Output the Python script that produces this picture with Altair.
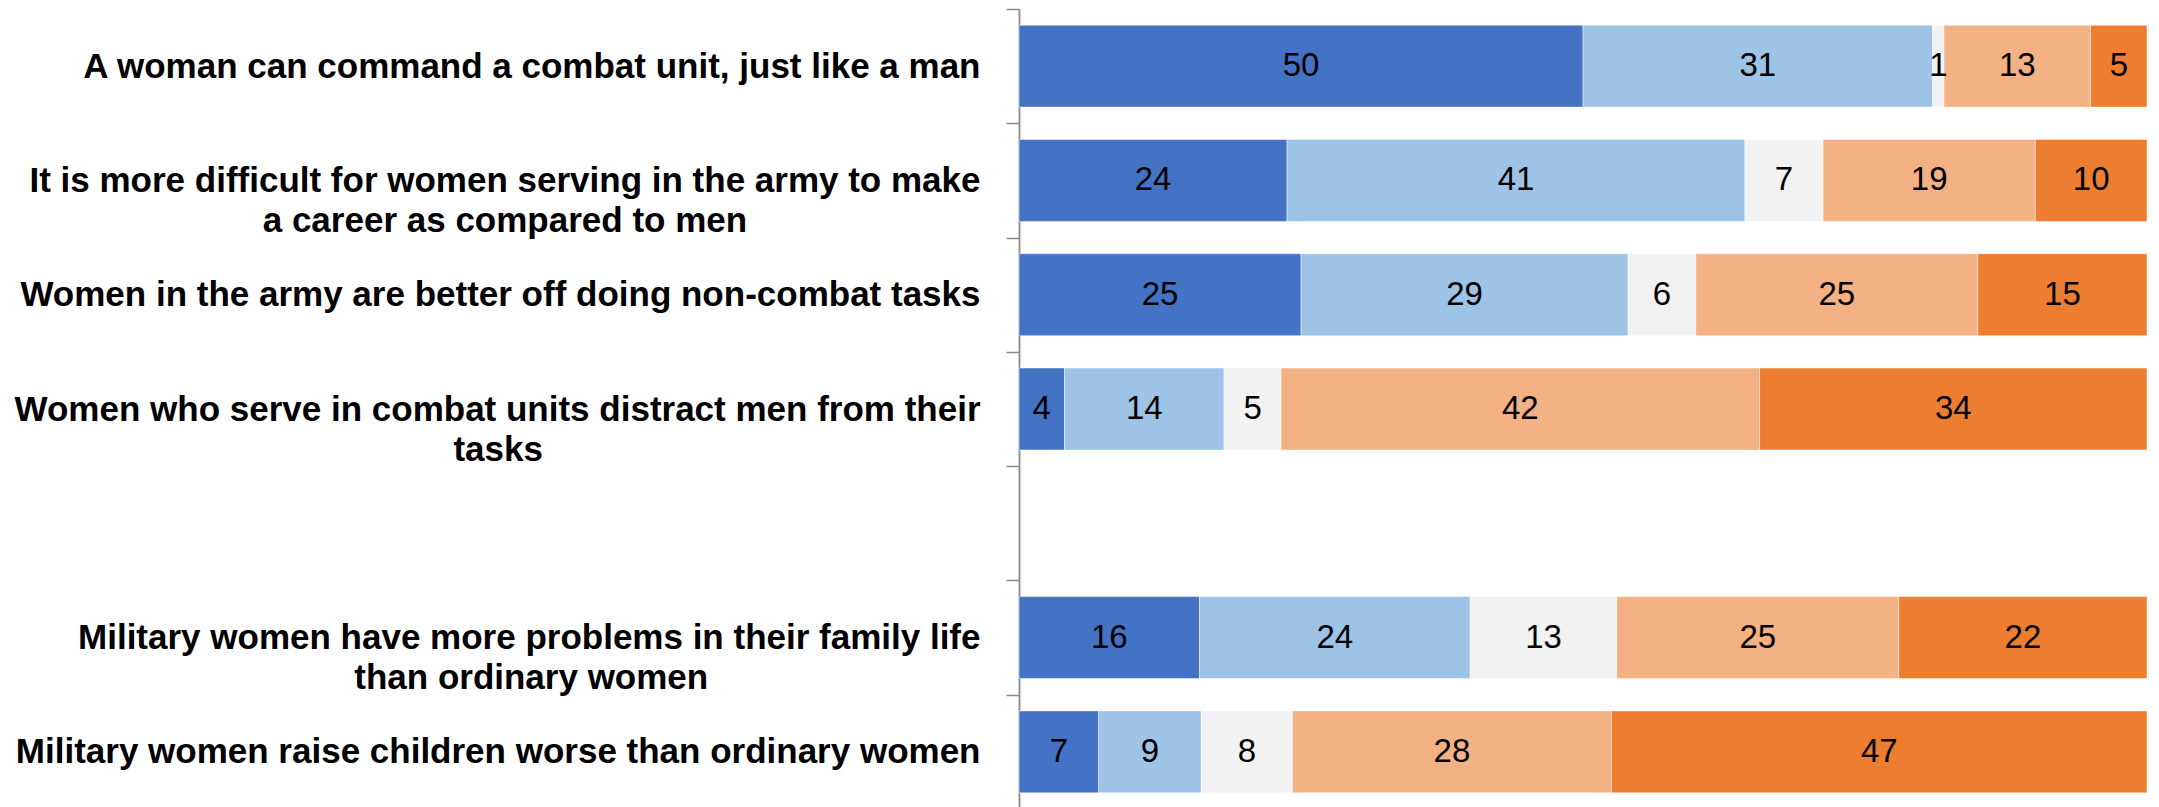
import altair as alt
import pandas as pd

# Statements (one blank separator row between the 4th and 5th)
statements = [
    "A woman can command a combat unit, just like a man",
    "It is more difficult for women serving in the army to make|a career as compared to men",
    "Women in the army are better off doing non-combat tasks",
    "Women who serve in combat units distract men from their|tasks",
    "Military women have more problems in their family life|than ordinary women",
    "Military women raise children worse than ordinary women",
]
row_order = statements[:4] + [" "] + statements[4:]

answers = ["Definitely agree", "Rather agree", "Hard to say", "Rather disagree", "Definitely disagree"]
definitely_agree = [50, 24, 25, 4, 16, 7]
rather_agree = [31, 41, 29, 14, 24, 9]
hard_to_say = [1, 7, 6, 5, 13, 8]
rather_disagree = [13, 19, 25, 42, 25, 28]
definitely_disagree = [5, 10, 15, 34, 22, 47]
series = [definitely_agree, rather_agree, hard_to_say, rather_disagree, definitely_disagree]
colors = ["#4472C4", "#9DC3E6", "#F2F2F2", "#F4B183", "#ED7D31"]

# Long table with 100%-stacked positions (shares of each row total)
rows = []
for i, s in enumerate(statements):
    total = sum(vals[i] for vals in series)
    cum = 0
    for j, (a, vals) in enumerate(zip(answers, series)):
        v = vals[i]
        rows.append({
            "statement": s, "answer": a, "value": v, "order": j,
            "start": cum / total, "end": (cum + v) / total, "mid": (cum + v / 2) / total,
        })
        cum += v
df = pd.DataFrame(rows)

# layout: centre the second line of wrapped labels under the first
# (no-break spaces appended to the second line, closed by a zero-width space
#  so that they are not trimmed)
NB = "\u00a0"
ZW = "\u200b"
second_line_pad = {statements[1]: 24, statements[3]: 45, statements[4]: 28}
label_expr = "split(datum.label, '|')"
for key, n in second_line_pad.items():
    l1, l2 = key.split("|")
    label_expr = "datum.value == '%s' ? ['%s', '%s'] : (%s)" % (key, l1, l2 + NB * n + ZW, label_expr)

LABEL_FONT = "Liberation Sans"
AXIS_GRAY = "#898989"

y_enc = alt.Y(
    "statement:N",
    scale=alt.Scale(domain=row_order, paddingInner=0, paddingOuter=0),
    axis=alt.Axis(
        title=None,
        labelExpr=label_expr,
        labelFont=LABEL_FONT,
        labelFontSize=35,
        labelFontWeight="bold",
        labelColor="#000000",
        labelLimit=1200,
        labelLineHeight=40,
        labelBaseline="middle",
        labelAlign="right",
        labelPadding=26,
        tickSize=13,
        tickColor=AXIS_GRAY,
        tickWidth=1.5,
        tickBand="extent",
        domainColor=AXIS_GRAY,
        domainWidth=1.8,
        grid=False,
    ),
)

xscale = alt.Scale(domain=[0, 1], nice=False, zero=True)

base = alt.Chart(df).encode(y=y_enc)

bars = base.mark_bar(height={"band": 0.717}, stroke="#ffffff", strokeWidth=0.8, strokeOpacity=0.6).encode(
    x=alt.X("start:Q", scale=xscale, axis=None),
    x2="end:Q",
    color=alt.Color("answer:N", scale=alt.Scale(domain=answers, range=colors), legend=None),
)

texts = base.mark_text(
    font="Liberation Sans",
    fontSize=33,
    color="#000000",
    align="center",
    baseline="middle",
).encode(
    x=alt.X("mid:Q", scale=xscale, axis=None),
    text=alt.Text("value:Q"),
)

chart = alt.layer(bars, texts).properties(
    width=1128,
    height=800,
    autosize=alt.AutoSizeParams(type="none"),
    padding={"left": 1011, "top": 1, "right": 4, "bottom": 0},
    background="#ffffff",
).configure_view(stroke=None)

chart.save("out.html", embed_options={"renderer": "svg", "actions": False})
